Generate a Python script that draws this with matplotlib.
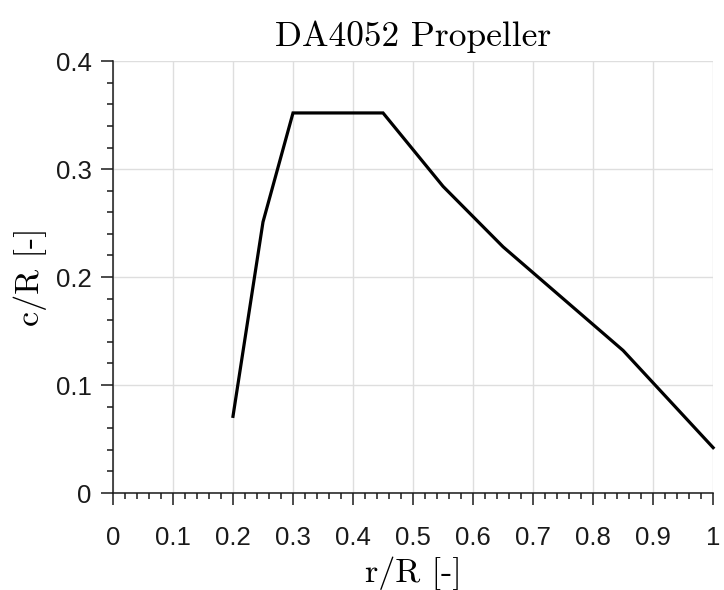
import matplotlib
matplotlib.use("Agg")
import matplotlib.pyplot as plt
from matplotlib.ticker import MultipleLocator, FuncFormatter

r_R = [0.2, 0.25, 0.3, 0.45, 0.55, 0.65, 0.75, 0.85, 1.0]
c_R = [0.071, 0.251, 0.352, 0.352, 0.284, 0.228, 0.180, 0.132, 0.042]
title = "DA4052 Propeller"
xlabel = "r/R [-]"
ylabel = "c/R [-]"

plt.rcParams['font.family'] = ['Liberation Sans', 'DejaVu Sans']

fig = plt.figure(figsize=(7.24, 5.90), dpi=100)
ax = fig.add_axes([0.156, 0.1644, 0.829, 0.732])

ax.plot(r_R, c_R, color='black', lw=2.3, solid_joinstyle='miter', clip_on=False)

ax.set_xlim(0, 1)
ax.set_ylim(0, 0.4)
ax.xaxis.set_major_locator(MultipleLocator(0.1))
ax.xaxis.set_minor_locator(MultipleLocator(0.02))
ax.yaxis.set_major_locator(MultipleLocator(0.1))
ax.yaxis.set_minor_locator(MultipleLocator(0.02))
fmt = FuncFormatter(lambda v, p: f"{v:.10g}" if abs(v) > 1e-9 else "0")
ax.xaxis.set_major_formatter(fmt)
ax.yaxis.set_major_formatter(fmt)

ax.grid(True, which='major', color='#dedede', lw=1.0)
ax.set_axisbelow(True)
for s in ['top', 'right']:
    ax.spines[s].set_visible(False)
for s in ['left', 'bottom']:
    ax.spines[s].set_color('#1a1a1a')
    ax.spines[s].set_linewidth(1.1)

ax.tick_params(which='major', direction='out', length=8.5, width=1.1, color='#1a1a1a',
               labelsize=18.5, labelcolor='#1a1a1a')
ax.tick_params(axis='x', which='major', pad=15)
ax.tick_params(axis='y', which='major', pad=7)
ax.tick_params(which='minor', direction='out', length=4.5, width=1.1, color='#1a1a1a')

ax.set_title(title, family='cmr10', fontsize=25.5, pad=11)
ax.set_xlabel(xlabel, family='cmr10', fontsize=24.5, labelpad=5)
ax.set_ylabel(ylabel, family='cmr10', fontsize=24.5, labelpad=6)

fig.savefig("out.png", dpi=100, facecolor='white')
